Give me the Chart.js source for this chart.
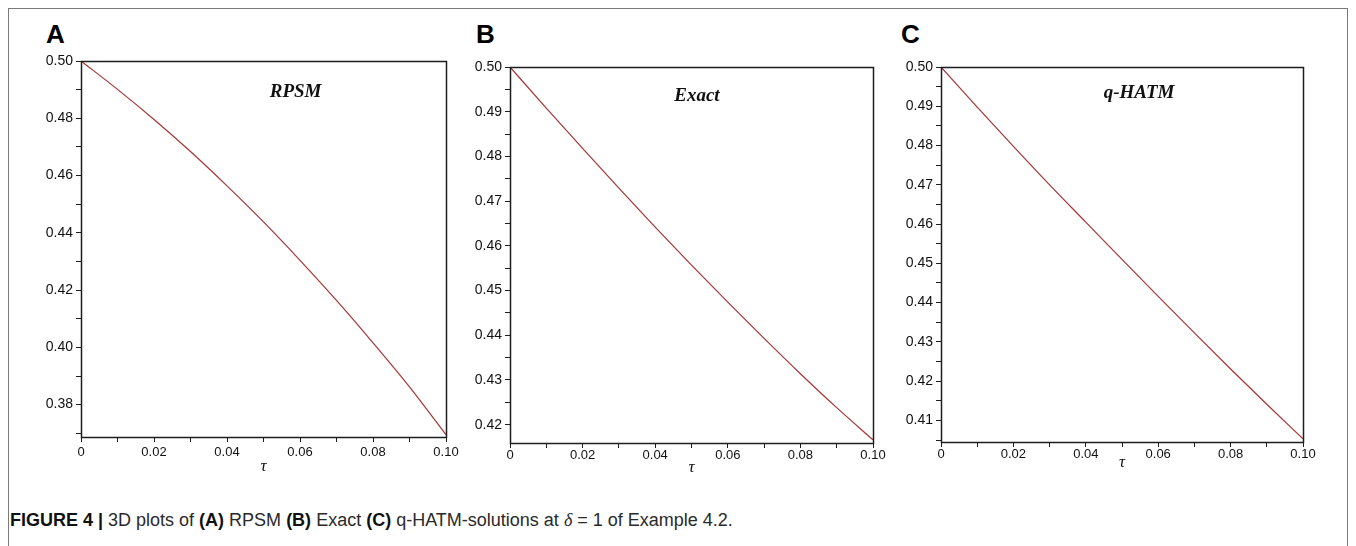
<!DOCTYPE html>
<html>
<head>
<meta charset="utf-8">
<title>Figure 4</title>
<script src="https://cdn.jsdelivr.net/npm/chart.js@4.4.0/dist/chart.umd.min.js"></script>
<style>
  body { margin: 0; background: #fff; }
  #figure { position: relative; width: 1356px; height: 546px; overflow: hidden; font-family: "Liberation Sans", Arial, sans-serif; }
  .frame { position: absolute; left: 8px; top: 8px; width: 1338px; height: 600px; border: 1px solid #7a7a7a; }
  .panel-letter { position: absolute; top: 21px; font-weight: bold; font-size: 26px; line-height: 26px; color: #000; }
  #figure canvas { position: absolute; }
  .caption { position: absolute; left: 10px; top: 511px; font-size: 18px; line-height: 18px; color: #2a2a2a; white-space: nowrap; }
  .caption b { font-weight: bold; color: #111; }
</style>
</head>
<body>
<div id="figure">
  <div class="frame"></div>
  <div class="panel-letter" style="left:46px">A</div>
  <div class="panel-letter" style="left:476px">B</div>
  <div class="panel-letter" style="left:901px">C</div>
  <canvas id="chartA"></canvas>
  <canvas id="chartB"></canvas>
  <canvas id="chartC"></canvas>
  <div class="caption"><b>FIGURE 4 |</b> 3D plots of <b>(A)</b> RPSM <b>(B)</b> Exact <b>(C)</b> q-HATM-solutions at <i style="font-family:'Liberation Serif',serif">δ</i> = 1 of Example 4.2.</div>
</div>
<script>
// u(τ) for the three solutions, sampled at τ = 0 … 0.1
const tau   = [0, 0.01, 0.02, 0.03, 0.04, 0.05, 0.06, 0.07, 0.08, 0.09, 0.10];
const rpsm  = [0.5000, 0.4901, 0.4796, 0.4684, 0.4564, 0.4438, 0.4304, 0.4164, 0.4016, 0.3862, 0.3695];
const exact = [0.5000, 0.4908, 0.4818, 0.4729, 0.4642, 0.4557, 0.4474, 0.4393, 0.4314, 0.4238, 0.4166];
const qhatm = [0.5000, 0.4898, 0.4798, 0.4700, 0.4605, 0.4510, 0.4416, 0.4323, 0.4231, 0.4141, 0.4053];

// labelled ticks (unlabelled minor ticks sit half way between)
const xTickLabels = ['0', '0.02', '0.04', '0.06', '0.08', '0.10'];
const yTicksA = ['0.38', '0.40', '0.42', '0.44', '0.46', '0.48', '0.50'];
const yTicksB = ['0.42', '0.43', '0.44', '0.45', '0.46', '0.47', '0.48', '0.49', '0.50'];
const yTicksC = ['0.41', '0.42', '0.43', '0.44', '0.45', '0.46', '0.47', '0.48', '0.49', '0.50'];

const LINE_COLOR = '#a83434';
const AXIS_COLOR = '#1e1e1e';

// major + minor tick list for a scale
function tickList(labels, min, max) {
    const majors = labels.map(parseFloat);
    const step = majors[1] - majors[0];
    const ticks = majors.map(v => ({ value: v }));
    for (let i = -1; i < majors.length; i++) {
        const v = majors[0] + (i + 0.5) * step;
        if (v >= min - 1e-9 && v <= max + 1e-9) ticks.push({ value: v });
    }
    return ticks.sort((a, b) => a.value - b.value);
}

function labelFor(labels) {
    return value => {
        const hit = labels.find(l => Math.abs(parseFloat(l) - value) < 1e-7);
        return hit === undefined ? '' : hit;
    };
}

// box around the plot area
const plotFrame = {
    id: 'plotFrame',
    afterDraw(chart) {
        const { ctx, chartArea: a } = chart;
        ctx.save();
        ctx.strokeStyle = AXIS_COLOR;
        ctx.lineWidth = 1.5;
        ctx.strokeRect(Math.round(a.left) + 0.5, Math.round(a.top) + 0.5,
            Math.round(a.width), Math.round(a.height));
        ctx.restore();
    }
};

// method name written inside the plot
const panelTitle = {
    id: 'panelTitle',
    afterDraw(chart, args, opts) {
        const { ctx, chartArea: a } = chart;
        ctx.save();
        ctx.font = 'italic bold 19px "Liberation Serif", "Times New Roman", serif';
        ctx.fillStyle = '#111';
        ctx.textAlign = 'center';
        ctx.textBaseline = 'alphabetic';
        ctx.fillText(opts.text, a.left + opts.fx * a.width, a.top + opts.dy);
        ctx.restore();
    }
};

function drawPanel(id, box, xTitleH, xPad, yMin, series, yLabels, title) {
    const pad = { left: 10, top: 60, right: 30, bottom: 10 };
    const yAxisW = 50;
    const canvas = document.getElementById(id);
    const w = (box.right - box.left) + yAxisW + pad.left + pad.right;
    const h = (box.bottom - box.top) + pad.top + xTitleH + pad.bottom;
    canvas.width = w;
    canvas.height = h;
    canvas.style.width = w + 'px';
    canvas.style.height = h + 'px';
    canvas.style.left = (box.left - yAxisW - pad.left) + 'px';
    canvas.style.top = (box.top - pad.top) + 'px';

    const family = '"Liberation Sans", Arial, sans-serif';

    return new Chart(canvas, {
        type: 'line',
        data: {
            datasets: [{
                data: tau.map((t, i) => ({ x: t, y: series[i] })),
                borderColor: LINE_COLOR,
                borderWidth: 1.2,
                pointRadius: 0,
                cubicInterpolationMode: 'monotone',
                fill: false
            }]
        },
        options: {
            responsive: false,
            animation: false,
            layout: { padding: pad },
            plugins: {
                legend: { display: false },
                tooltip: { enabled: false },
                panelTitle: title
            },
            scales: {
                x: {
                    type: 'linear',
                    min: 0,
                    max: 0.1,
                    afterBuildTicks: s => { s.ticks = tickList(xTickLabels, 0, 0.1); },
                    afterFit: s => { s.height = xTitleH; },
                    ticks: {
                        autoSkip: false,
                        maxRotation: 0,
                        padding: xPad,
                        color: '#111',
                        font: { family: family, size: 13 },
                        callback: labelFor(xTickLabels)
                    },
                    grid: { drawOnChartArea: false, tickLength: 5, tickColor: AXIS_COLOR },
                    border: { display: false },
                    title: {
                        display: true,
                        text: 'τ',
                        color: '#111',
                        padding: 0,
                        font: { family: '"Liberation Serif", serif', style: 'italic', size: 17 }
                    }
                },
                y: {
                    type: 'linear',
                    min: yMin,
                    max: 0.5,
                    afterBuildTicks: s => { s.ticks = tickList(yLabels, yMin, 0.5); },
                    afterFit: s => { s.width = yAxisW; },
                    ticks: {
                        autoSkip: false,
                        padding: 3,
                        color: '#111',
                        font: { family: family, size: 14 },
                        callback: labelFor(yLabels)
                    },
                    grid: { drawOnChartArea: false, tickLength: 5, tickColor: AXIS_COLOR },
                    border: { display: false }
                }
            }
        },
        plugins: [plotFrame, panelTitle]
    });
}

drawPanel('chartA', { left: 81, right: 446, top: 61, bottom: 437 }, 40, 3, 0.3687, rpsm, yTicksA,
    { text: 'RPSM', fx: 0.588, dy: 36 });
drawPanel('chartB', { left: 510, right: 873, top: 67, bottom: 443 }, 35, 0, 0.4159, exact, yTicksB,
    { text: 'Exact', fx: 0.515, dy: 34 });
drawPanel('chartC', { left: 941, right: 1303, top: 67, bottom: 442 }, 31, 0, 0.4045, qhatm, yTicksC,
    { text: 'q-HATM', fx: 0.547, dy: 31 });
</script>
</body>
</html>
